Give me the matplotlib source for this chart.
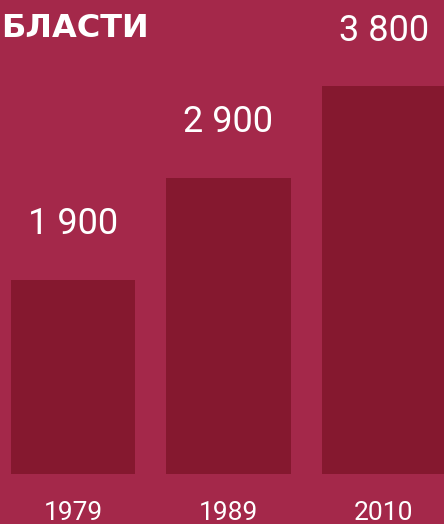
import matplotlib.pyplot as plt

years = ['1979', '1989', '2010']
values = [1900, 2900, 3800]
value_labels = ['1 900', '2 900', '3 800']
title = 'БЛАСТИ'

bg = '#A4284A'
bar_color = '#85182F'

plt.rcParams['font.family'] = ['Roboto', 'DejaVu Sans']

fig = plt.figure(figsize=(4.44, 5.24), dpi=100, facecolor=bg)
ax = fig.add_axes([0, 0, 1, 1])
ax.set_facecolor(bg)
ax.axis('off')

x = range(len(years))
ax.bar(x, values, width=0.8, color=bar_color)
ax.set_xlim(-0.469, 2.386)
ax.set_ylim(-490, 4647)

for i, (v, lab) in enumerate(zip(values, value_labels)):
    ax.annotate(lab, (i, v), xytext=(0, 33), textcoords='offset points',
                ha='center', va='baseline', color='white', fontsize=26)
    ax.text(i, -455, years[i], ha='center', va='baseline', color='white',
            fontsize=19)

# titre collé au bord gauche comme sur l'original
fig.text(1 / 444, 1 - 37 / 524, title, ha='left', va='baseline',
         color='white', fontsize=23, fontweight='bold', family='DejaVu Sans')

fig.savefig('out.png', dpi=100, facecolor=bg)
